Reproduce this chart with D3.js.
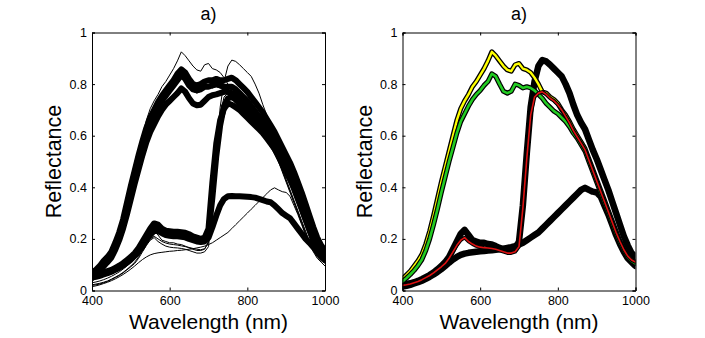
<!DOCTYPE html>
<html>
<head>
<meta charset="utf-8">
<script src="https://cdn.jsdelivr.net/npm/d3@7"></script>
<style>
  body { margin: 0; background: #fff; }
  text { font-family: "Liberation Sans", Arial, Helvetica, sans-serif; fill: #000; }
</style>
</head>
<body>
<svg id="chart" width="705" height="338"></svg>
<script>
// wavelength grid (nm)
var wavelengths = [400,410,420,430,440,450,460,470,480,490,
  500,510,520,530,540,550,560,570,580,590,
  600,610,620,630,640,650,660,670,680,690,
  700,710,720,730,740,750,760,770,780,790,
  800,810,820,830,840,850,860,870,880,890,
  900,910,920,930,940,950,960,970,980,990,1000];

// spectra shown in the right panel (and thin in the left one)
var yellowSpec = [0.045,0.06,0.075,0.095,0.115,0.14,0.18,0.23,0.29,0.355,
  0.42,0.48,0.54,0.60,0.66,0.705,0.735,0.76,0.79,0.81,
  0.835,0.86,0.89,0.925,0.91,0.89,0.87,0.855,0.85,0.875,
  0.88,0.86,0.855,0.845,0.825,0.80,0.77,0.765,0.75,0.74,
  0.725,0.70,0.68,0.655,0.625,0.60,0.575,0.55,0.51,0.47,
  0.43,0.39,0.35,0.31,0.27,0.23,0.19,0.16,0.135,0.12,0.11];
var greenSpec = [0.035,0.048,0.062,0.078,0.097,0.12,0.155,0.20,0.255,0.315,
  0.38,0.44,0.50,0.555,0.61,0.655,0.685,0.715,0.74,0.76,
  0.775,0.795,0.81,0.84,0.83,0.80,0.772,0.765,0.772,0.80,
  0.795,0.785,0.79,0.785,0.775,0.76,0.745,0.725,0.71,0.695,
  0.685,0.67,0.655,0.635,0.61,0.59,0.565,0.54,0.50,0.46,
  0.42,0.38,0.34,0.30,0.26,0.22,0.185,0.155,0.13,0.115,0.105];
var redSpec = [0.02,0.022,0.025,0.03,0.035,0.042,0.05,0.058,0.068,0.08,
  0.092,0.105,0.125,0.15,0.175,0.195,0.205,0.19,0.18,0.172,
  0.168,0.166,0.165,0.163,0.16,0.155,0.15,0.145,0.145,0.15,
  0.17,0.32,0.51,0.68,0.75,0.765,0.77,0.76,0.745,0.735,
  0.72,0.70,0.675,0.65,0.62,0.595,0.57,0.545,0.505,0.465,
  0.425,0.385,0.345,0.305,0.265,0.225,0.19,0.158,0.133,0.118,0.11];
var edgeSpec = [0.022,0.025,0.028,0.032,0.037,0.044,0.052,0.06,0.07,0.082,
  0.095,0.11,0.13,0.16,0.19,0.22,0.235,0.215,0.195,0.19,
  0.185,0.185,0.18,0.178,0.172,0.165,0.16,0.155,0.155,0.16,
  0.19,0.33,0.53,0.71,0.81,0.87,0.893,0.888,0.875,0.86,
  0.845,0.83,0.80,0.765,0.72,0.68,0.65,0.625,0.585,0.545,
  0.51,0.47,0.43,0.39,0.345,0.30,0.255,0.21,0.175,0.145,0.13];
var soilSpec = [0.015,0.018,0.022,0.027,0.032,0.038,0.045,0.053,0.062,0.072,
  0.083,0.095,0.108,0.12,0.13,0.138,0.143,0.146,0.148,0.15,
  0.152,0.153,0.155,0.156,0.158,0.16,0.162,0.165,0.168,0.172,
  0.178,0.185,0.195,0.205,0.215,0.225,0.24,0.255,0.27,0.285,
  0.30,0.315,0.33,0.345,0.36,0.375,0.39,0.398,0.39,0.383,
  0.38,0.365,0.33,0.295,0.255,0.215,0.18,0.15,0.125,0.11,0.095];

// extra spectra of the left panel
var vegA = [0.068,0.08,0.095,0.115,0.13,0.15,0.185,0.225,0.275,0.34,
  0.405,0.465,0.525,0.58,0.63,0.67,0.70,0.73,0.755,0.775,
  0.795,0.815,0.84,0.857,0.845,0.82,0.80,0.795,0.80,0.81,
  0.815,0.815,0.82,0.815,0.815,0.82,0.825,0.815,0.80,0.785,
  0.77,0.75,0.73,0.71,0.69,0.665,0.64,0.615,0.585,0.555,
  0.525,0.495,0.46,0.42,0.38,0.335,0.29,0.245,0.205,0.175,0.155];
var vegB = [0.062,0.074,0.088,0.105,0.12,0.14,0.172,0.212,0.26,0.32,
  0.385,0.445,0.505,0.56,0.61,0.65,0.68,0.71,0.735,0.755,
  0.775,0.795,0.815,0.835,0.82,0.795,0.78,0.776,0.78,0.79,
  0.79,0.795,0.80,0.795,0.79,0.79,0.79,0.78,0.765,0.75,
  0.735,0.715,0.695,0.675,0.655,0.63,0.605,0.58,0.55,0.52,
  0.49,0.46,0.425,0.385,0.345,0.30,0.26,0.22,0.185,0.16,0.14];
var vegC = [0.058,0.068,0.08,0.095,0.11,0.128,0.158,0.195,0.24,0.295,
  0.355,0.415,0.47,0.525,0.575,0.615,0.645,0.675,0.70,0.72,
  0.735,0.75,0.765,0.783,0.77,0.745,0.725,0.718,0.72,0.735,
  0.75,0.757,0.76,0.765,0.77,0.77,0.765,0.75,0.735,0.72,
  0.705,0.685,0.665,0.645,0.625,0.60,0.575,0.55,0.52,0.49,
  0.46,0.43,0.395,0.355,0.315,0.275,0.235,0.195,0.165,0.14,0.125];
var leftEdge = [0.058,0.062,0.066,0.07,0.075,0.08,0.088,0.096,0.106,0.118,
  0.13,0.145,0.165,0.19,0.215,0.24,0.26,0.255,0.24,0.232,
  0.23,0.228,0.228,0.226,0.224,0.218,0.21,0.205,0.20,0.205,
  0.24,0.42,0.57,0.66,0.705,0.725,0.72,0.71,0.70,0.685,
  0.67,0.655,0.64,0.625,0.61,0.59,0.57,0.55,0.525,0.50,
  0.47,0.44,0.40,0.36,0.32,0.275,0.235,0.195,0.16,0.135,0.12];
var leftEdge2 = [0.055,0.058,0.062,0.066,0.07,0.075,0.082,0.09,0.1,0.112,
  0.125,0.14,0.158,0.18,0.205,0.228,0.245,0.24,0.228,0.222,
  0.22,0.218,0.217,0.215,0.213,0.208,0.2,0.195,0.192,0.196,
  0.22,0.36,0.52,0.64,0.715,0.745,0.75,0.74,0.725,0.71,
  0.695,0.68,0.662,0.645,0.63,0.61,0.59,0.57,0.545,0.52,
  0.49,0.46,0.42,0.38,0.34,0.295,0.25,0.21,0.17,0.14,0.125];
var leftPlateau = [0.05,0.053,0.057,0.062,0.067,0.073,0.08,0.088,0.097,0.108,
  0.12,0.134,0.15,0.17,0.195,0.215,0.232,0.23,0.222,0.215,
  0.212,0.21,0.21,0.208,0.206,0.20,0.195,0.19,0.188,0.19,
  0.205,0.245,0.29,0.33,0.355,0.365,0.366,0.365,0.365,0.364,
  0.363,0.362,0.36,0.355,0.35,0.345,0.342,0.33,0.315,0.30,
  0.29,0.28,0.26,0.24,0.22,0.20,0.185,0.168,0.15,0.135,0.12];
var lowThin = [0.03,0.033,0.037,0.042,0.048,0.055,0.063,0.072,0.083,0.095,
  0.108,0.122,0.14,0.162,0.183,0.2,0.21,0.2,0.19,0.184,
  0.18,0.178,0.176,0.173,0.17,0.167,0.163,0.16,0.158,0.162,
  0.185,0.35,0.52,0.64,0.70,0.72,0.72,0.71,0.70,0.685,
  0.67,0.655,0.64,0.625,0.61,0.59,0.57,0.55,0.525,0.50,
  0.47,0.44,0.40,0.36,0.32,0.275,0.235,0.195,0.16,0.135,0.12];

var xTicks = [400, 600, 800, 1000];
var yTicks = [0, 0.2, 0.4, 0.6, 0.8, 1];
var panelTitles = ["a)", "a)"];

// how each panel draws its spectra (order = drawing order)
var leftLines = [
  {values: vegA, width: 6, color: "#000"},
  {values: vegB, width: 6, color: "#000"},
  {values: vegC, width: 6, color: "#000"},
  {values: leftEdge, width: 6, color: "#000"},
  {values: leftEdge2, width: 6, color: "#000"},
  {values: leftPlateau, width: 6, color: "#000"},
  {values: yellowSpec, width: 1, color: "#000"},
  {values: greenSpec, width: 1, color: "#000"},
  {values: edgeSpec, width: 1, color: "#000"},
  {values: soilSpec, width: 1, color: "#000"},
  {values: redSpec, width: 1, color: "#000"},
  {values: lowThin, width: 1, color: "#000"}
];
var rightLines = [
  {values: soilSpec, width: 6.5, color: "#000"},
  {values: edgeSpec, width: 6.5, color: "#000"},
  {values: yellowSpec, width: 5, color: "#000"},
  {values: yellowSpec, width: 2.4, color: "#ffff00"},
  {values: greenSpec, width: 5, color: "#000"},
  {values: greenSpec, width: 2.6, color: "#22cc22"},
  {values: redSpec, width: 3.6, color: "#000"},
  {values: redSpec, width: 1.6, color: "#dd1111"}
];

var svg = d3.select("#chart");
var plotW = 233, plotH = 258, plotTop = 32.5;

function drawPanel(left, lines, title, clipId) {
  var x = d3.scaleLinear().domain([400, 1000]).range([0, plotW]);
  var y = d3.scaleLinear().domain([0, 1]).range([plotH, 0]);

  var g = svg.append("g").attr("transform", "translate(" + left + "," + plotTop + ")");

  g.append("clipPath").attr("id", clipId)
    .append("rect").attr("width", plotW).attr("height", plotH);

  var line = d3.line()
    .x(function(d, i) { return x(wavelengths[i]); })
    .y(function(d) { return y(d); });

  g.append("g").attr("clip-path", "url(#" + clipId + ")")
    .selectAll("path")
    .data(lines)
    .enter()
    .append("path")
      .attr("d", function(d) { return line(d.values); })
      .attr("fill", "none")
      .attr("stroke", function(d) { return d.color; })
      .attr("stroke-width", function(d) { return d.width; })
      .attr("stroke-linejoin", "round")
      .attr("stroke-linecap", "round");

  // axes with inward ticks, matlab-like box
  var xAxis = d3.axisBottom(x).tickValues(xTicks).tickSize(-3).tickPadding(6).tickFormat(d3.format("d"));
  var yAxis = d3.axisLeft(y).tickValues(yTicks).tickSize(-3).tickPadding(5).tickFormat(function(d) { return d === 0 || d === 1 ? d : d3.format(".1f")(d); });
  var xTop = d3.axisTop(x).tickValues(xTicks).tickSize(-3).tickFormat("");
  var yRight = d3.axisRight(y).tickValues(yTicks).tickSize(-3).tickFormat("");

  g.append("g").attr("transform", "translate(0," + plotH + ")").call(xAxis);
  g.append("g").call(yAxis);
  g.append("g").call(xTop);
  g.append("g").attr("transform", "translate(" + plotW + ",0)").call(yRight);

  g.selectAll(".domain").attr("stroke", "#000").attr("stroke-width", 1);
  g.selectAll(".tick line").attr("stroke", "#000");
  g.selectAll(".tick text").attr("font-size", 12.5).attr("font-family", "Liberation Sans, Arial, sans-serif").attr("fill", "#000");

  // title and labels
  g.append("text")
    .attr("x", plotW / 2).attr("y", -13)
    .attr("text-anchor", "middle")
    .attr("font-size", 18)
    .text(title);

  g.append("text")
    .attr("x", plotW / 2).attr("y", plotH + 38.5)
    .attr("text-anchor", "middle")
    .attr("font-size", 21)
    .text("Wavelength (nm)");

  g.append("text")
    .attr("transform", "translate(-31," + (plotH / 2) + ") rotate(-90)")
    .attr("text-anchor", "middle")
    .attr("font-size", 21.5)
    .text("Reflectance");
}

drawPanel(92, leftLines, panelTitles[0], "clipL");
drawPanel(402.5, rightLines, panelTitles[1], "clipR");
</script>
</body>
</html>
